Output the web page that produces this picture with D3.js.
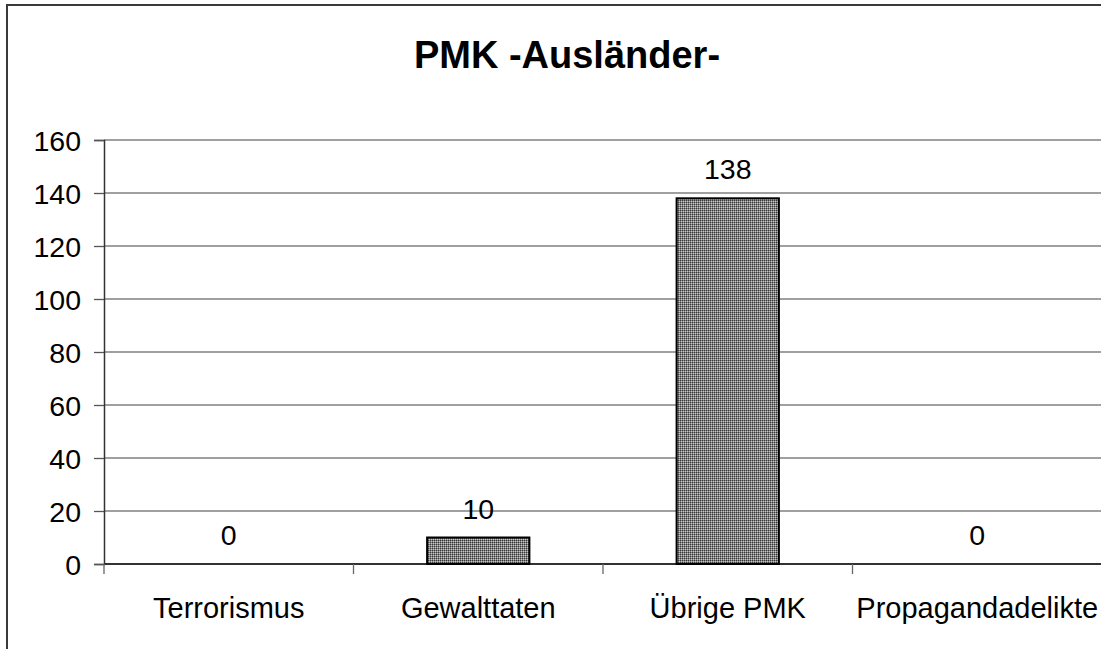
<!DOCTYPE html>
<html lang="de">
<head>
<meta charset="utf-8">
<title>PMK -Ausländer-</title>
<script src="https://d3js.org/d3.v7.min.js"></script>
<style>
  html, body { margin: 0; padding: 0; background: #fff; }
  svg { display: block; font-family: "Liberation Sans", Arial, sans-serif; }
</style>
</head>
<body>
<div id="chart"></div>
<script>
// data
const categories = ["Terrorismus", "Gewalttaten", "Übrige PMK", "Propagandadelikte"];
const values = [0, 10, 138, 0];
const yTicks = [0, 20, 40, 60, 80, 100, 120, 140, 160];
const chartTitle = "PMK -Ausländer-";

const width = 1101, height = 649;
const plot = {left: 104, right: 1102, top: 140, bottom: 564};

const svg = d3.select("#chart").append("svg")
    .attr("width", width)
    .attr("height", height);

// dotted fill like the old office charts
const defs = svg.append("defs");
const pat = defs.append("pattern")
    .attr("id", "dots")
    .attr("width", 2).attr("height", 2)
    .attr("patternUnits", "userSpaceOnUse");
pat.append("rect").attr("width", 2).attr("height", 2).attr("fill", "#808080");
pat.append("rect").attr("width", 1).attr("height", 1).attr("fill", "#3a3a3a");
pat.append("rect").attr("x", 1).attr("y", 1).attr("width", 1).attr("height", 1).attr("fill", "#c8c8c8");

// chart frame (runs off the right and bottom edge)
svg.append("path")
    .attr("d", `M7,${height + 5}V5H${width + 5}`)
    .attr("fill", "none")
    .attr("stroke", "#3a3a3a")
    .attr("stroke-width", 2);

svg.append("text")
    .attr("x", 567)
    .attr("y", 68)
    .attr("text-anchor", "middle")
    .attr("font-size", 38)
    .attr("font-weight", "bold")
    .text(chartTitle);

const x = d3.scaleBand().domain(categories).range([plot.left, plot.right]);
const y = d3.scaleLinear().domain([0, 160]).range([plot.bottom, plot.top]);
const barW = x.bandwidth() * 0.41;

// gridlines
svg.append("g")
  .selectAll("line")
  .data(yTicks.filter(d => d > 0))
  .join("line")
    .attr("x1", plot.left).attr("x2", width)
    .attr("y1", d => y(d)).attr("y2", d => y(d))
    .attr("stroke", "#808080")
    .attr("stroke-width", 1.3);

// y axis
const yAxis = svg.append("g")
    .attr("transform", `translate(${plot.left},0)`)
    .call(d3.axisLeft(y).tickValues(yTicks).tickSize(10).tickPadding(13));
yAxis.select(".domain").attr("stroke", "#333").attr("stroke-width", 1.5);
yAxis.selectAll(".tick line").attr("stroke", "#555").attr("stroke-width", 1.3);
yAxis.selectAll(".tick text")
    .attr("font-size", 28.5)
    .attr("font-family", "'Liberation Sans', Arial, sans-serif")
    .attr("fill", "#000")
    .attr("dy", "0.36em");

// x axis
const xAxis = svg.append("g")
    .attr("transform", `translate(0,${plot.bottom})`)
    .call(d3.axisBottom(x).tickSize(0).tickPadding(0));
xAxis.select(".domain").attr("d", `M${plot.left},0H${width}`)
    .attr("stroke", "#333").attr("stroke-width", 2);
xAxis.selectAll(".tick text")
    .attr("font-size", 29)
    .attr("font-family", "'Liberation Sans', Arial, sans-serif")
    .attr("fill", "#000")
    .attr("y", 54)
    .attr("dy", 0);
// category separators
xAxis.append("g")
  .selectAll("line")
  .data(categories)
  .join("line")
    .attr("x1", d => x(d)).attr("x2", d => x(d))
    .attr("y1", 0).attr("y2", 10)
    .attr("stroke", "#666")
    .attr("stroke-width", 1.3);

// bars
svg.append("g")
  .selectAll("rect")
  .data(values.map((v, i) => ({c: categories[i], v})).filter(d => d.v > 0))
  .join("rect")
    .attr("x", d => x(d.c) + x.bandwidth() / 2 - barW / 2)
    .attr("y", d => y(d.v))
    .attr("width", barW)
    .attr("height", d => y(0) - y(d.v))
    .attr("fill", "url(#dots)")
    .attr("stroke", "#000")
    .attr("stroke-width", 2);

// value labels
svg.append("g")
  .selectAll("text")
  .data(values.map((v, i) => ({c: categories[i], v})))
  .join("text")
    .attr("x", d => x(d.c) + x.bandwidth() / 2)
    .attr("y", d => y(d.v) - 19)
    .attr("text-anchor", "middle")
    .attr("font-size", 28.5)
    .text(d => d.v);
</script>
</body>
</html>
